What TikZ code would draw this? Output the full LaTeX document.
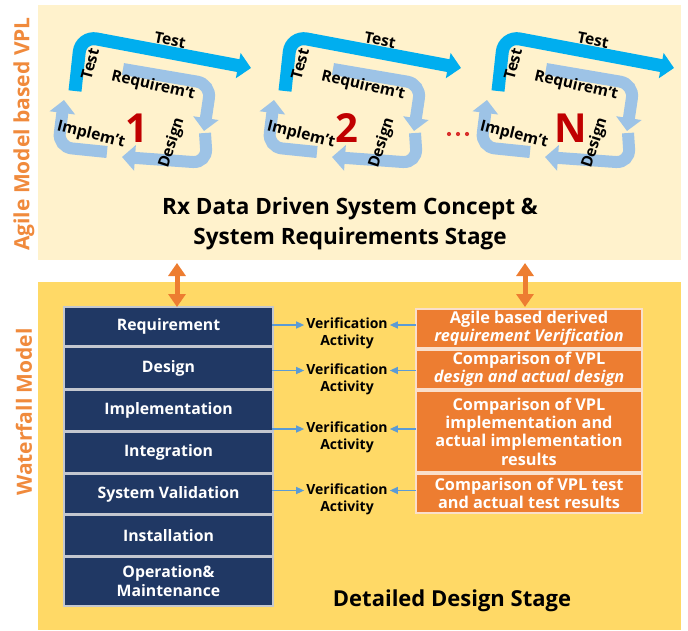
\documentclass[tikz,border=0pt]{standalone}
\usepackage{fontspec}
\setmainfont{Open Sans}
\usetikzlibrary{arrows.meta,calc}

\definecolor{cream}{HTML}{FFF2CC}
\definecolor{wfyellow}{HTML}{FFD966}
\definecolor{navy}{HTML}{203864}
\definecolor{rowgap}{HTML}{C3C7CF}
\definecolor{accent}{HTML}{ED7D31}
\definecolor{labelorange}{HTML}{F08A3C}
\definecolor{cyanblue}{HTML}{00AEEF}
\definecolor{paleblue}{HTML}{9DC3E6}
\definecolor{linkblue}{HTML}{5B9BD5}
\definecolor{numred}{HTML}{C00000}
\definecolor{dotred}{HTML}{D9302C}

% one iteration of the agile loop: #1 x shift, #2 name prefix, #3 x of the counter, #4 counter
\newcommand\agilecycle[4]{%
  \begin{scope}[shift={(#1,0)},name prefix=#2-]
    \draw[testband] (75,91) -- (81,36) -- (251,68);
    \draw[band] (123,69) -- (211,84) -- (204,131);
    \draw[band] (205,133) -- (207,163) -- (122,157);
    \draw[band] (107,152) -- (58,147) -- (64,100);
    \node[clabel,rotate=-11] (testh) at (170,40) {Test};
    \node[clabel,rotate=75] (testv) at (90,64) {Test};
    \node[clabel,rotate=-13] (req) at (153,86) {Requirem’t};
    \node[clabel,rotate=72] (des) at (172,143) {Design};
    \node[clabel,rotate=-14] (imp) at (91,135) {Implem’t};
    \node[cnum] (num) at (#3,128) {#4};
  \end{scope}}

\begin{document}
\begin{tikzpicture}[x=1pt,y=-1pt,
  panel/.style={inner sep=0pt,outer sep=0pt,anchor=north west},
  row/.style={fill=navy,text=white,font=\bfseries\fontsize{15.8}{19}\selectfont,
    minimum width=207pt,inner sep=0pt,outer sep=0pt,anchor=north,align=center},
  verif/.style={font=\bfseries\fontsize{14}{17}\selectfont,align=center,inner sep=1pt},
  obox/.style={fill=accent,draw=white!75!accent,line width=1.3pt,text=white,
    font=\bfseries\fontsize{16.3}{18.3}\selectfont,minimum width=226pt,inner sep=0pt,
    outer sep=0pt,anchor=north,align=center},
  linkarrow/.style={draw=linkblue,line width=1.2pt,-{Triangle[width=7pt,length=8pt]},shorten >=1pt},
  dblarrow/.style={draw=accent,line width=5pt,{Triangle[width=17pt,length=13pt]}-{Triangle[width=17pt,length=13pt]}},
  band/.style={draw=paleblue,line width=12pt,rounded corners=14pt,-{Triangle[width=25pt,length=13pt]}},
  testband/.style={draw=cyanblue,line width=13pt,rounded corners=16pt,-{Triangle[width=25pt,length=13pt]}},
  clabel/.style={font=\bfseries\fontsize{15.5}{16}\selectfont,inner sep=0pt},
  cnum/.style={font=\bfseries\fontsize{40}{40}\selectfont,text=numred,inner sep=0pt},
  sidelabel/.style={font=\bfseries\fontsize{21}{24}\selectfont,text=labelorange,rotate=90,inner sep=0pt}
]
\useasboundingbox (0,0) rectangle (688,630);

% stage panels
\node[panel,fill=cream,minimum width=643pt,minimum height=255pt] (agile) at (38,5) {};
\node[panel,fill=wfyellow,minimum width=643pt,minimum height=348pt] (wfpanel) at (38,282) {};

% side captions
\node[sidelabel] (agilecap) at (24,134) {Agile Model based VPL};
\node[sidelabel] (wfcap) at (24,412) {Waterfall Model};

% agile iterations
\agilecycle{0}{c1}{137}{1}
\agilecycle{210}{c2}{137}{2}
\agilecycle{423}{c3}{148}{N}
\foreach \dx in {0,9,18} \fill[dotred] (449+\dx,134) circle (2.1pt);

\node[font=\bfseries\fontsize{22.5}{30}\selectfont,align=center] (concept) at (350,224)
  {Rx Data Driven System Concept \&\\System Requirements Stage};

% waterfall stack
\node[panel,fill=rowgap,minimum width=211pt,minimum height=301pt] (stack) at (63,306) {};
\node[row,minimum height=37pt] (r1) at (168.5,308) {Requirement};
\node[row,minimum height=40pt] (r2) at (168.5,348) {Design};
\node[row,minimum height=39.5pt] (r3) at (168.5,390.5) {Implementation};
\node[row,minimum height=39pt] (r4) at (168.5,433) {Integration};
\node[row,minimum height=38pt] (r5) at (168.5,475) {System Validation};
\node[row,minimum height=39pt] (r6) at (168.5,516) {Installation};
\node[row,minimum height=47pt] (r7) at (168.5,558) {Operation\&\\Maintenance};

% VPL comparison boxes
\node[obox,minimum height=39pt] (o1) at (529,309) {Agile based derived\\\textit{requirement Verification}};
\node[obox,minimum height=39pt] (o2) at (529,350) {Comparison of VPL\\\textit{design and actual design}};
\node[obox,minimum height=81pt] (o3) at (529,391) {Comparison of VPL\\implementation and\\actual implementation\\results};
\node[obox,minimum height=39pt] (o4) at (529,474) {Comparison of VPL test\\and actual test results};

% verification activities
\node[verif] (v1) at (347,333.5) {Verification\\Activity};
\node[verif] (v2) at (347,379) {Verification\\Activity};
\node[verif] (v3) at (347,437.5) {Verification\\Activity};
\node[verif] (v4) at (347,499) {Verification\\Activity};

\foreach \i/\r in {1/r1,2/r2,3/r3,4/r5}{
  \coordinate (vl\i) at ($(v\i.west)+(0,-8.5)$);
  \coordinate (vr\i) at ($(v\i.east)+(0,-8.5)$);
  \draw[linkarrow] (\r.east |- vl\i) -- (vl\i);
  \draw[linkarrow] (o\i.west |- vr\i) -- (vr\i);
}

% links between the stages
\coordinate (axl) at (177,0);
\coordinate (axr) at (525,0);
\draw[dblarrow,shorten <=3pt,shorten >=1pt] (agile.south -| axl) -- (r1.north -| axl);
\draw[dblarrow,shorten <=3pt,shorten >=2pt] (agile.south -| axr) -- (o1.north -| axr);

\node[font=\bfseries\fontsize{22}{24}\selectfont] (detail) at (452,601) {Detailed Design Stage};
\end{tikzpicture}
\end{document}
